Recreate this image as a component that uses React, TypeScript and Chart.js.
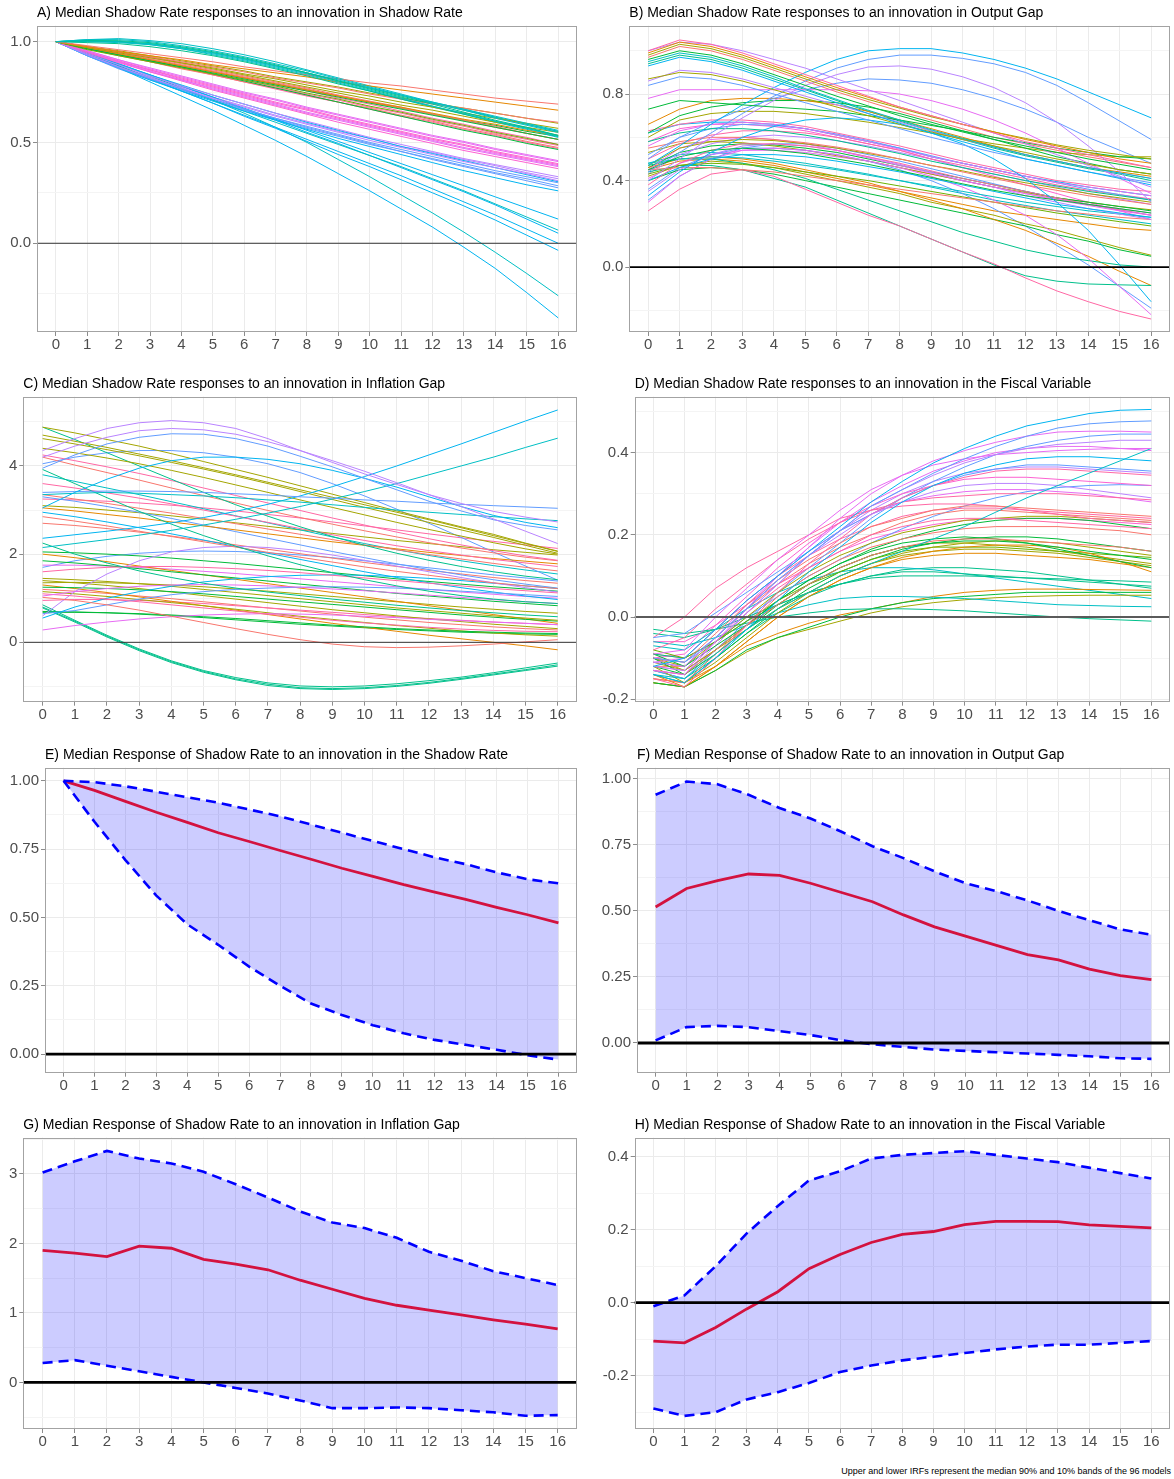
import React, { useEffect, useRef } from "react";
import { Chart, registerables } from "chart.js";

Chart.register(...registerables);

const FONT = '"Liberation Sans", Arial, Helvetica, sans-serif';

const HORIZON = [0, 1, 2, 3, 4, 5, 6, 7, 8, 9, 10, 11, 12, 13, 14, 15, 16];

const TITLES = [
  "A) Median Shadow Rate responses to an innovation in Shadow Rate",
  "B) Median Shadow Rate responses to an innovation in Output Gap",
  "C) Median Shadow Rate responses to an innovation in Inflation Gap",
  "D) Median Shadow Rate responses to an innovation in the Fiscal Variable",
  "E) Median Response of Shadow Rate to an innovation in the Shadow Rate",
  "F) Median Response of Shadow Rate to an innovation in Output Gap",
  "G) Median Response of Shadow Rate to an innovation in Inflation Gap",
  "H) Median Response of Shadow Rate to an innovation in the Fiscal Variable",
];

const FOOTNOTE = "Upper and lower IRFs represent the median 90% and 10% bands of the 96 models";

// ggplot-like hue colours
const RED = "#F8766D", ORANGE = "#E58700", OLIVE = "#A3A500", LIME = "#6BB100", GREEN = "#00BA38",
  JADE = "#00C08B", TEAL = "#00BFC4", CYAN = "#00B4F0", BLUE = "#619CFF", PURPLE = "#B983FF",
  MAGENTA = "#E76BF3", PINK = "#FF67A4", PINK2 = "#FD61D1";

// ---------- Panel A: responses to Shadow Rate innovation ----------
const A_LINES: number[][] = [
  [1, 1.01, 1.01, 1.0, 0.98, 0.955, 0.925, 0.89, 0.855, 0.815, 0.775, 0.735, 0.695, 0.66, 0.62, 0.585, 0.55],
  [1, 1.005, 1.005, 0.995, 0.975, 0.95, 0.92, 0.885, 0.845, 0.805, 0.765, 0.725, 0.69, 0.65, 0.61, 0.575, 0.535],
  [1, 1.0, 0.995, 0.985, 0.965, 0.94, 0.91, 0.875, 0.84, 0.8, 0.76, 0.72, 0.68, 0.645, 0.605, 0.57, 0.53],
  [1, 0.995, 0.99, 0.975, 0.955, 0.93, 0.9, 0.865, 0.83, 0.79, 0.755, 0.715, 0.68, 0.64, 0.605, 0.57, 0.535],
  [1, 1.005, 1.0, 0.99, 0.97, 0.945, 0.915, 0.88, 0.845, 0.81, 0.77, 0.735, 0.7, 0.665, 0.63, 0.595, 0.56],
  [1, 0.98, 0.96, 0.94, 0.92, 0.9, 0.875, 0.855, 0.835, 0.815, 0.795, 0.78, 0.76, 0.74, 0.72, 0.705, 0.69],
  [1, 0.975, 0.95, 0.93, 0.91, 0.885, 0.865, 0.845, 0.825, 0.8, 0.78, 0.76, 0.74, 0.72, 0.7, 0.68, 0.66],
  [1, 0.975, 0.95, 0.925, 0.9, 0.875, 0.85, 0.82, 0.795, 0.77, 0.74, 0.715, 0.69, 0.67, 0.645, 0.62, 0.6],
  [1, 0.97, 0.945, 0.92, 0.895, 0.87, 0.84, 0.815, 0.785, 0.755, 0.73, 0.7, 0.675, 0.645, 0.62, 0.595, 0.57],
  [1, 0.975, 0.95, 0.925, 0.895, 0.865, 0.835, 0.805, 0.775, 0.745, 0.715, 0.685, 0.66, 0.63, 0.6, 0.575, 0.55],
  [1, 0.97, 0.94, 0.91, 0.88, 0.85, 0.82, 0.79, 0.76, 0.73, 0.7, 0.675, 0.645, 0.615, 0.59, 0.56, 0.535],
  [1, 0.965, 0.935, 0.905, 0.875, 0.845, 0.815, 0.785, 0.755, 0.725, 0.695, 0.665, 0.635, 0.605, 0.575, 0.545, 0.515],
  [1, 0.96, 0.93, 0.9, 0.87, 0.84, 0.81, 0.78, 0.745, 0.715, 0.68, 0.65, 0.615, 0.585, 0.55, 0.52, 0.49],
  [1, 0.965, 0.935, 0.905, 0.875, 0.84, 0.805, 0.77, 0.735, 0.7, 0.665, 0.63, 0.595, 0.56, 0.53, 0.495, 0.465],
  [1, 0.975, 0.95, 0.92, 0.89, 0.86, 0.83, 0.8, 0.77, 0.735, 0.705, 0.675, 0.64, 0.61, 0.58, 0.545, 0.515],
  [1, 0.97, 0.94, 0.91, 0.88, 0.85, 0.82, 0.785, 0.755, 0.72, 0.69, 0.655, 0.62, 0.59, 0.555, 0.525, 0.49],
  [1, 0.965, 0.93, 0.9, 0.865, 0.835, 0.8, 0.77, 0.735, 0.7, 0.67, 0.635, 0.605, 0.57, 0.54, 0.505, 0.475],
  [1, 0.97, 0.94, 0.905, 0.875, 0.84, 0.81, 0.775, 0.74, 0.71, 0.675, 0.645, 0.61, 0.58, 0.545, 0.515, 0.485],
  [1, 0.955, 0.91, 0.87, 0.83, 0.79, 0.75, 0.715, 0.675, 0.64, 0.605, 0.57, 0.535, 0.505, 0.47, 0.44, 0.41],
  [1, 0.95, 0.905, 0.86, 0.82, 0.78, 0.74, 0.7, 0.665, 0.625, 0.59, 0.555, 0.52, 0.49, 0.455, 0.425, 0.395],
  [1, 0.95, 0.9, 0.855, 0.81, 0.77, 0.73, 0.69, 0.65, 0.615, 0.58, 0.545, 0.51, 0.475, 0.445, 0.415, 0.385],
  [1, 0.945, 0.895, 0.85, 0.805, 0.76, 0.72, 0.68, 0.64, 0.6, 0.565, 0.53, 0.495, 0.46, 0.43, 0.4, 0.37],
  [1, 0.94, 0.885, 0.83, 0.78, 0.735, 0.69, 0.645, 0.605, 0.565, 0.525, 0.49, 0.455, 0.42, 0.39, 0.36, 0.33],
  [1, 0.935, 0.875, 0.82, 0.77, 0.72, 0.675, 0.63, 0.59, 0.55, 0.51, 0.475, 0.44, 0.405, 0.375, 0.345, 0.31],
  [1, 0.93, 0.87, 0.815, 0.765, 0.715, 0.665, 0.62, 0.58, 0.54, 0.5, 0.465, 0.43, 0.395, 0.36, 0.33, 0.3],
  [1, 0.94, 0.885, 0.835, 0.785, 0.735, 0.69, 0.645, 0.6, 0.56, 0.52, 0.48, 0.445, 0.41, 0.375, 0.34, 0.305],
  [1, 0.935, 0.875, 0.82, 0.765, 0.715, 0.665, 0.62, 0.575, 0.535, 0.495, 0.455, 0.415, 0.38, 0.345, 0.31, 0.275],
  [1, 0.93, 0.87, 0.81, 0.755, 0.705, 0.655, 0.61, 0.565, 0.52, 0.48, 0.44, 0.4, 0.36, 0.325, 0.29, 0.26],
  [1, 0.945, 0.89, 0.835, 0.78, 0.725, 0.67, 0.615, 0.56, 0.505, 0.45, 0.395, 0.34, 0.285, 0.23, 0.175, 0.12],
  [1, 0.94, 0.88, 0.82, 0.765, 0.71, 0.655, 0.6, 0.545, 0.49, 0.435, 0.38, 0.32, 0.26, 0.195, 0.13, 0.065],
  [1, 0.945, 0.89, 0.835, 0.78, 0.725, 0.665, 0.61, 0.55, 0.495, 0.435, 0.375, 0.315, 0.255, 0.19, 0.12, 0.05],
  [1, 0.935, 0.875, 0.815, 0.755, 0.695, 0.635, 0.575, 0.515, 0.455, 0.395, 0.335, 0.27, 0.205, 0.14, 0.07, 0.0],
  [1, 0.94, 0.88, 0.815, 0.755, 0.695, 0.63, 0.57, 0.505, 0.44, 0.38, 0.315, 0.25, 0.185, 0.115, 0.04, -0.035],
  [1, 0.945, 0.89, 0.83, 0.77, 0.71, 0.645, 0.575, 0.5, 0.415, 0.33, 0.24, 0.15, 0.055, -0.045, -0.15, -0.26],
  [1, 0.935, 0.87, 0.8, 0.73, 0.66, 0.585, 0.51, 0.43, 0.345, 0.26, 0.17, 0.08, -0.02, -0.125, -0.245, -0.37],
  [1, 1.01, 1.015, 1.005, 0.99, 0.965, 0.935, 0.9, 0.86, 0.82, 0.78, 0.74, 0.7, 0.665, 0.625, 0.59, 0.555],
  [1, 1.0, 1.0, 0.99, 0.97, 0.945, 0.915, 0.88, 0.845, 0.805, 0.77, 0.73, 0.695, 0.66, 0.625, 0.59, 0.555],
  [1, 1.005, 1.0, 0.985, 0.965, 0.935, 0.905, 0.87, 0.835, 0.795, 0.755, 0.715, 0.675, 0.64, 0.6, 0.565, 0.525],
  [1, 0.965, 0.935, 0.9, 0.87, 0.835, 0.8, 0.765, 0.73, 0.7, 0.665, 0.63, 0.6, 0.565, 0.535, 0.5, 0.47],
  [1, 0.97, 0.945, 0.915, 0.885, 0.855, 0.825, 0.795, 0.765, 0.73, 0.7, 0.67, 0.64, 0.61, 0.575, 0.545, 0.515],
  [1, 0.955, 0.91, 0.865, 0.825, 0.785, 0.745, 0.71, 0.67, 0.635, 0.6, 0.565, 0.53, 0.5, 0.465, 0.435, 0.405],
  [1, 0.95, 0.9, 0.86, 0.815, 0.775, 0.735, 0.695, 0.66, 0.62, 0.585, 0.55, 0.515, 0.485, 0.45, 0.42, 0.39],
  [1, 0.945, 0.9, 0.85, 0.81, 0.765, 0.725, 0.685, 0.645, 0.61, 0.575, 0.54, 0.505, 0.47, 0.44, 0.41, 0.38],
  [1, 0.935, 0.88, 0.825, 0.775, 0.725, 0.68, 0.635, 0.595, 0.555, 0.52, 0.48, 0.45, 0.415, 0.385, 0.35, 0.32],
  [1, 0.93, 0.865, 0.81, 0.76, 0.71, 0.66, 0.615, 0.57, 0.53, 0.49, 0.455, 0.42, 0.385, 0.35, 0.32, 0.285],
  [1, 0.97, 0.94, 0.91, 0.88, 0.85, 0.82, 0.79, 0.76, 0.73, 0.7, 0.67, 0.64, 0.61, 0.585, 0.555, 0.53],
  [1, 0.975, 0.955, 0.93, 0.905, 0.88, 0.855, 0.825, 0.8, 0.775, 0.745, 0.72, 0.695, 0.67, 0.645, 0.62, 0.595],
];
const A_COLORS = [TEAL, JADE, TEAL, JADE, TEAL, RED, ORANGE, RED, OLIVE, OLIVE, ORANGE, GREEN, LIME, GREEN, RED, PINK,
  RED, PINK, MAGENTA, PINK2, MAGENTA, PINK2, PURPLE, PURPLE, BLUE, CYAN, BLUE, CYAN, CYAN, TEAL, CYAN, CYAN, CYAN, TEAL, CYAN,
  TEAL, JADE, TEAL, PINK, RED, MAGENTA, PINK2, MAGENTA, PURPLE, BLUE, GREEN, OLIVE];

// ---------- Panel B: responses to Output Gap innovation ----------
const B_LINES: number[][] = [
  [1.0, 1.05, 1.03, 0.99, 0.94, 0.89, 0.84, 0.79, 0.74, 0.7, 0.66, 0.62, 0.58, 0.55, 0.52, 0.49, 0.46],
  [0.99, 1.04, 1.02, 0.98, 0.93, 0.88, 0.83, 0.785, 0.74, 0.7, 0.66, 0.625, 0.59, 0.56, 0.53, 0.5, 0.48],
  [0.98, 1.03, 1.01, 0.97, 0.92, 0.87, 0.82, 0.775, 0.735, 0.695, 0.66, 0.625, 0.595, 0.565, 0.54, 0.52, 0.5],
  [0.96, 1.0, 0.98, 0.94, 0.89, 0.84, 0.79, 0.745, 0.7, 0.66, 0.625, 0.59, 0.56, 0.53, 0.5, 0.475, 0.45],
  [0.95, 0.99, 0.97, 0.93, 0.88, 0.825, 0.775, 0.725, 0.68, 0.635, 0.595, 0.555, 0.52, 0.49, 0.46, 0.435, 0.41],
  [1.0, 1.04, 1.03, 1.0, 0.96, 0.92, 0.87, 0.82, 0.77, 0.72, 0.67, 0.62, 0.57, 0.52, 0.47, 0.42, 0.37],
  [0.93, 0.97, 0.95, 0.91, 0.86, 0.81, 0.76, 0.71, 0.665, 0.62, 0.58, 0.54, 0.5, 0.47, 0.44, 0.41, 0.38],
  [0.87, 0.9, 0.89, 0.86, 0.82, 0.78, 0.74, 0.7, 0.66, 0.625, 0.59, 0.56, 0.53, 0.5, 0.475, 0.45, 0.43],
  [0.86, 0.91, 0.9, 0.87, 0.83, 0.79, 0.75, 0.71, 0.67, 0.63, 0.59, 0.555, 0.52, 0.49, 0.46, 0.435, 0.41],
  [0.84, 0.88, 0.87, 0.84, 0.8, 0.76, 0.72, 0.68, 0.64, 0.6, 0.565, 0.53, 0.5, 0.47, 0.44, 0.415, 0.39],
  [0.78, 0.82, 0.82, 0.82, 0.82, 0.82, 0.82, 0.815, 0.8, 0.77, 0.73, 0.68, 0.62, 0.55, 0.48, 0.41, 0.34],
  [0.73, 0.77, 0.76, 0.75, 0.74, 0.73, 0.72, 0.7, 0.68, 0.655, 0.63, 0.6, 0.575, 0.55, 0.53, 0.51, 0.5],
  [0.47, 0.56, 0.66, 0.75, 0.83, 0.9, 0.96, 1.0, 1.01, 1.01, 0.99, 0.96, 0.92, 0.87, 0.81, 0.75, 0.69],
  [0.44, 0.53, 0.62, 0.71, 0.79, 0.86, 0.92, 0.96, 0.98, 0.98, 0.965, 0.94, 0.9, 0.84, 0.76, 0.675, 0.59],
  [0.4, 0.5, 0.6, 0.69, 0.77, 0.84, 0.89, 0.925, 0.93, 0.915, 0.88, 0.83, 0.76, 0.67, 0.56, 0.44, 0.3],
  [0.5, 0.6, 0.67, 0.73, 0.78, 0.82, 0.85, 0.87, 0.865, 0.85, 0.82, 0.78, 0.73, 0.67, 0.6, 0.54, 0.48],
  [0.33, 0.44, 0.53, 0.6, 0.65, 0.68, 0.69, 0.68, 0.66, 0.62, 0.57, 0.5, 0.41, 0.3, 0.17, 0.01, -0.16],
  [0.66, 0.73, 0.77, 0.78, 0.78, 0.77, 0.75, 0.72, 0.68, 0.64, 0.6, 0.56, 0.52, 0.49, 0.46, 0.44, 0.42],
  [0.62, 0.7, 0.74, 0.76, 0.77, 0.77, 0.76, 0.74, 0.71, 0.67, 0.63, 0.59, 0.55, 0.51, 0.48, 0.45, 0.43],
  [0.6, 0.68, 0.71, 0.72, 0.72, 0.71, 0.69, 0.67, 0.645, 0.62, 0.595, 0.57, 0.55, 0.53, 0.52, 0.51, 0.51],
  [0.63, 0.66, 0.68, 0.68, 0.67, 0.65, 0.62, 0.59, 0.56, 0.525, 0.49, 0.46, 0.43, 0.4, 0.38, 0.36, 0.35],
  [0.56, 0.63, 0.66, 0.67, 0.66, 0.64, 0.61, 0.58, 0.545, 0.51, 0.48, 0.45, 0.42, 0.39, 0.37, 0.35, 0.33],
  [0.58, 0.62, 0.64, 0.64, 0.63, 0.61, 0.585, 0.555, 0.525, 0.49, 0.46, 0.43, 0.4, 0.375, 0.35, 0.33, 0.31],
  [0.52, 0.6, 0.64, 0.66, 0.655, 0.64, 0.615, 0.585, 0.55, 0.515, 0.48, 0.45, 0.42, 0.39, 0.36, 0.335, 0.31],
  [0.55, 0.58, 0.6, 0.6, 0.59, 0.575, 0.555, 0.53, 0.5, 0.47, 0.44, 0.41, 0.38, 0.355, 0.33, 0.31, 0.29],
  [0.47, 0.55, 0.58, 0.59, 0.585, 0.57, 0.55, 0.525, 0.5, 0.47, 0.445, 0.415, 0.39, 0.365, 0.34, 0.32, 0.3],
  [0.45, 0.51, 0.54, 0.55, 0.54, 0.525, 0.5, 0.475, 0.445, 0.415, 0.385, 0.355, 0.33, 0.31, 0.29, 0.27, 0.25],
  [0.45, 0.55, 0.59, 0.6, 0.59, 0.57, 0.54, 0.505, 0.47, 0.435, 0.4, 0.37, 0.34, 0.31, 0.285, 0.26, 0.24],
  [0.38, 0.48, 0.54, 0.57, 0.57, 0.56, 0.54, 0.51, 0.48, 0.445, 0.41, 0.38, 0.35, 0.32, 0.29, 0.265, 0.24],
  [0.4, 0.46, 0.5, 0.52, 0.52, 0.51, 0.49, 0.465, 0.44, 0.41, 0.38, 0.35, 0.32, 0.29, 0.27, 0.25, 0.23],
  [0.35, 0.45, 0.52, 0.56, 0.57, 0.56, 0.54, 0.51, 0.475, 0.44, 0.4, 0.37, 0.33, 0.3, 0.27, 0.245, 0.22],
  [0.45, 0.46, 0.46, 0.45, 0.44, 0.42, 0.4, 0.38, 0.36, 0.34, 0.32, 0.3, 0.28, 0.26, 0.245, 0.23, 0.22],
  [0.48, 0.5, 0.51, 0.505, 0.49, 0.47, 0.45, 0.425, 0.4, 0.375, 0.35, 0.325, 0.3, 0.28, 0.26, 0.245, 0.23],
  [0.43, 0.47, 0.48, 0.475, 0.46, 0.44, 0.42, 0.4, 0.375, 0.35, 0.325, 0.3, 0.275, 0.25, 0.23, 0.21, 0.19],
  [0.26, 0.36, 0.43, 0.45, 0.42, 0.36, 0.3, 0.24, 0.19, 0.13, 0.07, 0.015, -0.05, -0.11, -0.16, -0.205, -0.24],
  [0.3, 0.42, 0.5, 0.54, 0.55, 0.54, 0.52, 0.49, 0.46, 0.42, 0.37, 0.31, 0.24, 0.15, 0.04, -0.09, -0.22],
  [0.47, 0.5, 0.5, 0.48, 0.45, 0.41, 0.36, 0.31, 0.26, 0.21, 0.16, 0.12, 0.08, 0.05, 0.03, 0.01, 0.0],
  [0.44, 0.47, 0.47, 0.45, 0.41, 0.37, 0.31, 0.25, 0.19, 0.13, 0.07, 0.01, -0.04, -0.065, -0.078, -0.082, -0.085],
  [0.46, 0.5, 0.51, 0.5, 0.48, 0.45, 0.42, 0.39, 0.35, 0.31, 0.27, 0.22, 0.17, 0.11, 0.05, -0.02, -0.085],
  [0.4, 0.45, 0.46, 0.45, 0.43, 0.4, 0.37, 0.34, 0.31, 0.28, 0.25, 0.22, 0.19, 0.15, 0.12, 0.08, 0.05],
  [0.42, 0.47, 0.49, 0.48, 0.46, 0.43, 0.4, 0.37, 0.34, 0.3, 0.27, 0.24, 0.2, 0.17, 0.13, 0.09, 0.055],
  [0.36, 0.46, 0.52, 0.55, 0.55, 0.54, 0.52, 0.49, 0.45, 0.4, 0.34, 0.27, 0.19, 0.1, 0.01, -0.09, -0.19],
  [0.97, 1.02, 1.0, 0.96, 0.91, 0.86, 0.81, 0.765, 0.72, 0.68, 0.64, 0.6, 0.57, 0.54, 0.51, 0.485, 0.46],
  [0.94, 0.98, 0.96, 0.92, 0.87, 0.82, 0.77, 0.72, 0.675, 0.63, 0.59, 0.55, 0.515, 0.485, 0.455, 0.43, 0.4],
  [0.62, 0.66, 0.67, 0.67, 0.66, 0.64, 0.61, 0.58, 0.55, 0.51, 0.48, 0.45, 0.42, 0.395, 0.37, 0.35, 0.33],
  [0.5, 0.57, 0.61, 0.63, 0.63, 0.62, 0.6, 0.57, 0.54, 0.5, 0.47, 0.44, 0.41, 0.38, 0.355, 0.335, 0.315],
  [0.43, 0.52, 0.57, 0.6, 0.61, 0.6, 0.585, 0.56, 0.53, 0.5, 0.46, 0.43, 0.4, 0.37, 0.34, 0.315, 0.29],
  [0.46, 0.53, 0.56, 0.57, 0.565, 0.55, 0.53, 0.5, 0.47, 0.44, 0.41, 0.38, 0.35, 0.32, 0.3, 0.28, 0.26],
  [0.53, 0.57, 0.58, 0.575, 0.56, 0.54, 0.515, 0.49, 0.46, 0.43, 0.4, 0.37, 0.345, 0.32, 0.3, 0.28, 0.265],
  [0.41, 0.48, 0.52, 0.54, 0.54, 0.53, 0.51, 0.49, 0.46, 0.43, 0.4, 0.37, 0.34, 0.315, 0.29, 0.27, 0.25],
  [0.31, 0.42, 0.5, 0.55, 0.57, 0.57, 0.55, 0.52, 0.49, 0.455, 0.42, 0.385, 0.35, 0.32, 0.29, 0.265, 0.24],
  [0.48, 0.52, 0.53, 0.52, 0.5, 0.48, 0.455, 0.43, 0.4, 0.37, 0.34, 0.31, 0.285, 0.26, 0.24, 0.22, 0.2],
  [0.58, 0.64, 0.66, 0.66, 0.65, 0.63, 0.6, 0.57, 0.54, 0.5, 0.46, 0.42, 0.38, 0.34, 0.3, 0.26, 0.22],
  [0.45, 0.49, 0.5, 0.49, 0.47, 0.44, 0.41, 0.38, 0.35, 0.32, 0.29, 0.26, 0.24, 0.22, 0.2, 0.18, 0.17],
];
const B_COLORS = [PINK, ORANGE, OLIVE, GREEN, TEAL, PURPLE, CYAN, OLIVE, PURPLE, BLUE, MAGENTA, GREEN, CYAN, BLUE, PURPLE,
  BLUE, CYAN, ORANGE, GREEN, OLIVE, PINK, MAGENTA, JADE, BLUE, RED, OLIVE, GREEN, MAGENTA, PINK, CYAN, PURPLE, RED, TEAL,
  LIME, PINK, MAGENTA, JADE, JADE, ORANGE, GREEN, OLIVE, BLUE,
  RED, JADE, CYAN, PINK, PURPLE, GREEN, OLIVE, MAGENTA, BLUE, TEAL, PINK2, ORANGE];

// ---------- Panel C: responses to Inflation Gap innovation ----------
const C_LINES: number[][] = [
  [4.35, 4.62, 4.85, 4.98, 5.03, 4.98, 4.85, 4.62, 4.35, 4.08, 3.82, 3.58, 3.35, 3.15, 2.97, 2.84, 2.73],
  [4.2, 4.45, 4.65, 4.8, 4.85, 4.82, 4.72, 4.55, 4.35, 4.12, 3.88, 3.62, 3.35, 3.08, 2.8, 2.52, 2.24],
  [3.95, 4.25, 4.5, 4.65, 4.73, 4.72, 4.62, 4.45, 4.22, 3.98, 3.72, 3.46, 3.2, 2.98, 2.78, 2.65, 2.55],
  [3.05, 3.4, 3.7, 3.95, 4.12, 4.2, 4.2, 4.15, 4.05, 3.9, 3.72, 3.52, 3.3, 3.08, 2.88, 2.72, 2.6],
  [3.4, 3.42, 3.43, 3.43, 3.42, 3.4, 3.37, 3.34, 3.3, 3.27, 3.23, 3.2, 3.16, 3.13, 3.1, 3.07, 3.04],
  [3.35, 3.38, 3.4, 3.38, 3.35, 3.32, 3.28, 3.23, 3.18, 3.12, 3.06, 3.0, 2.95, 2.9, 2.85, 2.8, 2.76],
  [2.36, 2.44, 2.52, 2.61, 2.71, 2.83, 2.97, 3.13, 3.32, 3.53, 3.76, 4.0, 4.25, 4.5, 4.76, 5.02, 5.27],
  [2.15, 2.24, 2.33, 2.43, 2.54, 2.66, 2.79, 2.93, 3.08, 3.25, 3.42, 3.6, 3.8, 4.0, 4.2, 4.42, 4.63],
  [4.88, 4.75, 4.6, 4.45, 4.28, 4.1, 3.92, 3.74, 3.55, 3.36, 3.17, 2.98, 2.8, 2.62, 2.45, 2.25, 2.07],
  [4.7, 4.56, 4.42, 4.27, 4.12, 3.96, 3.8, 3.63, 3.46, 3.29, 3.12, 2.95, 2.78, 2.6, 2.42, 2.24, 2.06],
  [4.62, 4.5, 4.37, 4.23, 4.08, 3.93, 3.77, 3.6, 3.42, 3.24, 3.06, 2.89, 2.72, 2.55, 2.38, 2.2, 2.02],
  [4.4, 4.3, 4.18, 4.05, 3.9, 3.74, 3.57, 3.4, 3.23, 3.06, 2.89, 2.72, 2.56, 2.41, 2.26, 2.12, 2.0],
  [4.88, 4.6, 4.3, 4.0, 3.7, 3.4, 3.12, 2.86, 2.62, 2.4, 2.2, 2.02, 1.86, 1.72, 1.6, 1.5, 1.42],
  [3.92, 3.6, 3.28, 2.97, 2.68, 2.42, 2.18, 1.96, 1.76, 1.58, 1.42, 1.28, 1.16, 1.06, 0.98, 0.92, 0.88],
  [2.25, 2.0, 1.8, 1.62, 1.47, 1.34, 1.23, 1.14, 1.06, 0.98, 0.91, 0.84, 0.78, 0.72, 0.67, 0.62, 0.58],
  [4.25, 4.12, 3.98, 3.83, 3.67, 3.5, 3.33, 3.16, 2.99, 2.82, 2.66, 2.5, 2.35, 2.21, 2.08, 1.96, 1.86],
  [4.2, 4.02, 3.85, 3.68, 3.5, 3.33, 3.16, 2.99, 2.83, 2.68, 2.53, 2.39, 2.26, 2.14, 2.03, 1.93, 1.85],
  [3.6, 3.5, 3.39, 3.27, 3.14, 3.0, 2.86, 2.72, 2.58, 2.44, 2.31, 2.19, 2.08, 1.98, 1.88, 1.8, 1.72],
  [3.35, 3.25, 3.15, 3.04, 2.93, 2.81, 2.69, 2.57, 2.45, 2.33, 2.21, 2.1, 1.99, 1.89, 1.79, 1.7, 1.62],
  [3.05, 2.98, 2.9, 2.82, 2.73, 2.64, 2.55, 2.46, 2.37, 2.28, 2.2, 2.12, 2.04, 1.97, 1.9, 1.84, 1.78],
  [2.85, 2.75, 2.64, 2.52, 2.4, 2.28, 2.16, 2.04, 1.93, 1.82, 1.71, 1.61, 1.52, 1.43, 1.35, 1.28, 1.22],
  [1.6, 1.66, 1.7, 1.72, 1.72, 1.7, 1.67, 1.63, 1.58, 1.52, 1.46, 1.4, 1.34, 1.28, 1.22, 1.17, 1.12],
  [1.05, 1.15, 1.22, 1.27, 1.3, 1.31, 1.3, 1.28, 1.25, 1.21, 1.17, 1.12, 1.07, 1.02, 0.97, 0.92, 0.88],
  [1.1, 1.05, 0.98, 0.92, 0.85, 0.78, 0.71, 0.64, 0.57, 0.5, 0.44, 0.39, 0.34, 0.3, 0.27, 0.25, 0.24],
  [1.02, 0.95, 0.85, 0.73, 0.59, 0.45, 0.31, 0.18, 0.06, -0.04, -0.1, -0.12, -0.11, -0.08, -0.04, 0.01, 0.06],
  [0.28, 0.38, 0.46, 0.53, 0.58, 0.62, 0.64, 0.65, 0.64, 0.62, 0.59, 0.56, 0.52, 0.49, 0.46, 0.43, 0.4],
  [0.6, 1.15, 1.55, 1.85, 2.05, 2.15, 2.18, 2.15, 2.08, 1.98, 1.86, 1.73, 1.6, 1.47, 1.35, 1.24, 1.14],
  [0.55, 0.8, 1.0, 1.15, 1.27, 1.37, 1.44, 1.49, 1.52, 1.53, 1.52, 1.49, 1.45, 1.4, 1.34, 1.28, 1.22],
  [0.65, 0.72, 0.85, 0.98, 1.08, 1.15, 1.2, 1.23, 1.25, 1.26, 1.25, 1.23, 1.2, 1.16, 1.12, 1.08, 1.04],
  [1.85, 1.8, 1.74, 1.67, 1.6, 1.53, 1.46, 1.39, 1.32, 1.25, 1.18, 1.11, 1.05, 0.99, 0.93, 0.88, 0.83],
  [1.45, 1.42, 1.38, 1.33, 1.27, 1.2, 1.13, 1.06, 0.99, 0.92, 0.85, 0.78, 0.72, 0.66, 0.6, 0.55, 0.5],
  [1.25, 1.24, 1.22, 1.19, 1.15, 1.1, 1.04, 0.98, 0.92, 0.86, 0.8, 0.74, 0.68, 0.62, 0.57, 0.52, 0.48],
  [1.4, 1.35, 1.29, 1.22, 1.14, 1.06, 0.98, 0.9, 0.82, 0.74, 0.67, 0.6, 0.53, 0.47, 0.41, 0.36, 0.31],
  [0.68, 0.68, 0.67, 0.65, 0.62, 0.58, 0.54, 0.49, 0.44, 0.39, 0.35, 0.31, 0.28, 0.25, 0.23, 0.21, 0.2],
  [1.15, 1.1, 1.04, 0.97, 0.9, 0.83, 0.75, 0.67, 0.59, 0.52, 0.45, 0.38, 0.32, 0.26, 0.21, 0.17, 0.14],
  [1.3, 1.22, 1.13, 1.03, 0.93, 0.83, 0.73, 0.63, 0.53, 0.43, 0.34, 0.25, 0.16, 0.08, 0.0, -0.08, -0.17],
  [2.0, 1.92, 1.83, 1.73, 1.63, 1.53, 1.43, 1.33, 1.23, 1.13, 1.03, 0.93, 0.83, 0.73, 0.63, 0.53, 0.43],
  [0.85, 0.5, 0.16, -0.15, -0.42, -0.64, -0.8, -0.92, -0.99, -1.01, -0.99, -0.94, -0.87, -0.79, -0.69, -0.58, -0.47],
  [0.8, 0.48, 0.14, -0.17, -0.44, -0.66, -0.83, -0.95, -1.03, -1.05, -1.03, -0.98, -0.91, -0.82, -0.72, -0.62, -0.51],
  [0.78, 0.46, 0.12, -0.19, -0.46, -0.68, -0.85, -0.98, -1.05, -1.07, -1.05, -1.0, -0.93, -0.84, -0.74, -0.64, -0.54],
  [3.3, 3.2, 3.08, 2.95, 2.81, 2.66, 2.51, 2.36, 2.21, 2.06, 1.92, 1.78, 1.65, 1.53, 1.42, 1.32, 1.23],
  [2.95, 2.85, 2.73, 2.6, 2.46, 2.32, 2.17, 2.02, 1.88, 1.74, 1.6, 1.47, 1.35, 1.24, 1.14, 1.05, 0.97],
  [4.05, 4.2, 4.3, 4.35, 4.35, 4.3, 4.2, 4.05, 3.85, 3.6, 3.32, 3.02, 2.7, 2.38, 2.05, 1.73, 1.41],
  [2.7, 2.65, 2.58, 2.5, 2.41, 2.31, 2.21, 2.11, 2.01, 1.91, 1.81, 1.72, 1.63, 1.55, 1.47, 1.4, 1.34],
  [2.05, 2.03, 2.0, 1.96, 1.91, 1.85, 1.79, 1.72, 1.65, 1.58, 1.51, 1.44, 1.38, 1.32, 1.26, 1.21, 1.16],
  [1.75, 1.75, 1.73, 1.7, 1.66, 1.61, 1.56, 1.5, 1.44, 1.38, 1.32, 1.26, 1.2, 1.14, 1.09, 1.04, 1.0],
  [1.35, 1.36, 1.35, 1.33, 1.3, 1.26, 1.21, 1.16, 1.1, 1.04, 0.98, 0.92, 0.86, 0.8, 0.75, 0.7, 0.66],
  [0.95, 0.97, 0.97, 0.95, 0.92, 0.88, 0.83, 0.78, 0.73, 0.68, 0.63, 0.58, 0.54, 0.5, 0.46, 0.43, 0.4],
  [1.2, 1.16, 1.11, 1.05, 0.99, 0.92, 0.85, 0.78, 0.71, 0.64, 0.57, 0.51, 0.45, 0.4, 0.35, 0.31, 0.28],
  [3.8, 3.65, 3.5, 3.35, 3.19, 3.03, 2.87, 2.71, 2.55, 2.39, 2.24, 2.1, 1.97, 1.85, 1.74, 1.64, 1.55],
  [3.1, 3.06, 3.0, 2.94, 2.87, 2.79, 2.71, 2.63, 2.55, 2.47, 2.39, 2.31, 2.24, 2.17, 2.1, 2.04, 1.98],
  [0.7, 0.69, 0.67, 0.64, 0.6, 0.56, 0.51, 0.46, 0.41, 0.37, 0.33, 0.29, 0.26, 0.23, 0.21, 0.19, 0.18],
  [1.7, 1.85, 1.95, 2.02, 2.06, 2.07, 2.06, 2.03, 1.98, 1.92, 1.85, 1.77, 1.69, 1.61, 1.53, 1.46, 1.39],
  [3.25, 3.23, 3.2, 3.16, 3.11, 3.05, 2.98, 2.9, 2.82, 2.73, 2.64, 2.55, 2.46, 2.37, 2.29, 2.21, 2.13],
];
const C_COLORS = [PURPLE, PURPLE, BLUE, CYAN, BLUE, TEAL, CYAN, TEAL, OLIVE, OLIVE, OLIVE, OLIVE, JADE, JADE, JADE, PINK, RED,
  PINK, RED, ORANGE, RED, PINK, MAGENTA, PINK, RED, MAGENTA, PURPLE, CYAN, BLUE, GREEN, OLIVE, GREEN, OLIVE, GREEN, OLIVE,
  ORANGE, ORANGE, JADE, JADE, JADE, BLUE, CYAN, BLUE,
  RED, GREEN, MAGENTA, OLIVE, PINK, RED, TEAL, OLIVE, GREEN, BLUE, PINK];

// ---------- Panel D: responses to Fiscal Variable innovation ----------
const D_LINES: number[][] = [
  [-0.12, -0.1, -0.03, 0.04, 0.1, 0.16, 0.22, 0.28, 0.33, 0.375, 0.41, 0.44, 0.465, 0.48, 0.495, 0.503, 0.505],
  [-0.1, -0.11, -0.05, 0.02, 0.09, 0.15, 0.21, 0.27, 0.31, 0.35, 0.385, 0.415, 0.44, 0.46, 0.47, 0.475, 0.477],
  [-0.13, -0.14, -0.06, 0.02, 0.1, 0.17, 0.24, 0.3, 0.345, 0.38, 0.405, 0.425, 0.44, 0.45, 0.452, 0.452, 0.45],
  [-0.12, -0.13, -0.06, 0.01, 0.08, 0.15, 0.21, 0.27, 0.31, 0.345, 0.375, 0.395, 0.41, 0.42, 0.425, 0.43, 0.43],
  [-0.09, -0.08, 0.0, 0.07, 0.14, 0.2, 0.26, 0.31, 0.345, 0.37, 0.385, 0.395, 0.4, 0.405, 0.408, 0.41, 0.41],
  [-0.14, -0.16, -0.1, -0.03, 0.04, 0.11, 0.17, 0.23, 0.28, 0.32, 0.35, 0.37, 0.385, 0.39, 0.39, 0.385, 0.38],
  [-0.14, -0.15, -0.09, -0.03, 0.02, 0.06, 0.1, 0.13, 0.16, 0.19, 0.22, 0.255, 0.29, 0.32, 0.35, 0.38, 0.41],
  [-0.11, -0.12, -0.05, 0.02, 0.09, 0.15, 0.2, 0.25, 0.28, 0.305, 0.32, 0.325, 0.325, 0.32, 0.31, 0.3, 0.29],
  [-0.15, -0.17, -0.1, -0.02, 0.06, 0.13, 0.19, 0.25, 0.29, 0.32, 0.34, 0.355, 0.36, 0.36, 0.355, 0.35, 0.345],
  [-0.05, -0.04, 0.01, 0.06, 0.11, 0.16, 0.21, 0.25, 0.29, 0.32, 0.345, 0.36, 0.37, 0.37, 0.365, 0.36, 0.355],
  [-0.08, -0.05, 0.02, 0.08, 0.14, 0.19, 0.23, 0.26, 0.28, 0.29, 0.295, 0.3, 0.3, 0.3, 0.295, 0.29, 0.285],
  [-0.1, -0.11, -0.04, 0.03, 0.09, 0.14, 0.18, 0.22, 0.24, 0.26, 0.27, 0.27, 0.265, 0.26, 0.255, 0.25, 0.245],
  [-0.12, -0.13, -0.06, 0.01, 0.07, 0.12, 0.16, 0.2, 0.22, 0.235, 0.24, 0.24, 0.235, 0.23, 0.225, 0.22, 0.215],
  [-0.15, -0.16, -0.09, -0.02, 0.05, 0.1, 0.14, 0.17, 0.19, 0.205, 0.215, 0.22, 0.22, 0.22, 0.215, 0.21, 0.2],
  [-0.11, -0.1, -0.03, 0.04, 0.1, 0.16, 0.21, 0.25, 0.28, 0.295, 0.305, 0.31, 0.31, 0.305, 0.3, 0.29, 0.28],
  [-0.05, 0.0, 0.07, 0.12, 0.16, 0.2, 0.24, 0.26, 0.27, 0.275, 0.275, 0.27, 0.26, 0.25, 0.24, 0.235, 0.23],
  [-0.13, -0.14, -0.08, -0.02, 0.03, 0.08, 0.12, 0.15, 0.17, 0.185, 0.19, 0.19, 0.185, 0.18, 0.175, 0.17, 0.16],
  [-0.1, -0.14, -0.09, -0.03, 0.03, 0.08, 0.12, 0.15, 0.17, 0.18, 0.185, 0.185, 0.18, 0.17, 0.16, 0.15, 0.14],
  [-0.12, -0.16, -0.11, -0.05, 0.01, 0.06, 0.1, 0.13, 0.155, 0.17, 0.18, 0.185, 0.185, 0.18, 0.17, 0.16, 0.15],
  [-0.09, -0.12, -0.07, -0.02, 0.04, 0.09, 0.13, 0.16, 0.18, 0.19, 0.195, 0.19, 0.18, 0.165, 0.15, 0.135, 0.12],
  [-0.14, -0.17, -0.12, -0.06, 0.0, 0.05, 0.09, 0.12, 0.145, 0.16, 0.17, 0.175, 0.175, 0.17, 0.155, 0.135, 0.11],
  [-0.11, -0.13, -0.08, -0.03, 0.02, 0.06, 0.1, 0.13, 0.15, 0.16, 0.165, 0.165, 0.16, 0.155, 0.145, 0.135, 0.125],
  [-0.08, -0.1, -0.06, -0.01, 0.04, 0.08, 0.11, 0.14, 0.16, 0.17, 0.17, 0.17, 0.165, 0.16, 0.155, 0.15, 0.145],
  [-0.1, -0.12, -0.06, 0.0, 0.06, 0.11, 0.15, 0.18, 0.205, 0.22, 0.235, 0.24, 0.245, 0.245, 0.24, 0.235, 0.23],
  [-0.12, -0.14, -0.08, -0.02, 0.04, 0.09, 0.13, 0.165, 0.19, 0.21, 0.225, 0.235, 0.24, 0.24, 0.235, 0.225, 0.215],
  [-0.04, -0.05, -0.03, 0.0, 0.03, 0.06, 0.08, 0.1, 0.11, 0.11, 0.105, 0.1, 0.095, 0.09, 0.085, 0.08, 0.075],
  [-0.06, -0.07, -0.05, -0.02, 0.01, 0.03, 0.045, 0.05, 0.05, 0.048, 0.045, 0.04, 0.035, 0.03, 0.028, 0.026, 0.025],
  [-0.03, -0.04, -0.03, -0.015, 0.0, 0.01, 0.018, 0.02, 0.02, 0.018, 0.015, 0.01, 0.005, 0.0, -0.004, -0.007, -0.01],
  [-0.16, -0.17, -0.13, -0.08, -0.05, -0.025, 0.0, 0.02, 0.035, 0.045, 0.05, 0.055, 0.06, 0.06, 0.06, 0.06, 0.06],
  [-0.15, -0.16, -0.12, -0.07, -0.04, -0.015, 0.005, 0.02, 0.035, 0.05, 0.06, 0.065, 0.068, 0.068, 0.067, 0.066, 0.065],
  [-0.16, -0.17, -0.13, -0.085, -0.05, -0.03, -0.01, 0.01, 0.025, 0.035, 0.042, 0.047, 0.05, 0.052, 0.053, 0.053, 0.053],
  [-0.09, -0.1, -0.06, -0.01, 0.03, 0.06, 0.08, 0.095, 0.1, 0.1, 0.1, 0.098, 0.095, 0.093, 0.09, 0.088, 0.085],
  [-0.07, -0.08, -0.03, 0.02, 0.06, 0.09, 0.11, 0.12, 0.12, 0.115, 0.105, 0.095, 0.085, 0.075, 0.065, 0.055, 0.045],
  [-0.1, -0.09, -0.02, 0.05, 0.12, 0.18, 0.23, 0.27, 0.3, 0.32, 0.335, 0.34, 0.34, 0.335, 0.33, 0.325, 0.32],
  [-0.13, -0.15, -0.08, -0.01, 0.06, 0.12, 0.18, 0.24, 0.29, 0.33, 0.365, 0.395, 0.415, 0.43, 0.44, 0.445, 0.445],
  [-0.11, -0.12, -0.05, 0.03, 0.1, 0.17, 0.23, 0.28, 0.32, 0.355, 0.38, 0.4, 0.41, 0.415, 0.415, 0.41, 0.405],
  [-0.13, -0.14, -0.07, 0.01, 0.08, 0.15, 0.21, 0.26, 0.3, 0.33, 0.35, 0.36, 0.365, 0.365, 0.36, 0.355, 0.35],
  [-0.09, -0.1, -0.03, 0.04, 0.1, 0.15, 0.19, 0.22, 0.245, 0.26, 0.265, 0.265, 0.26, 0.255, 0.25, 0.245, 0.24],
  [-0.12, -0.12, -0.05, 0.02, 0.08, 0.13, 0.17, 0.2, 0.23, 0.25, 0.26, 0.26, 0.255, 0.25, 0.245, 0.24, 0.235],
  [-0.14, -0.16, -0.1, -0.04, 0.02, 0.07, 0.11, 0.14, 0.165, 0.18, 0.19, 0.195, 0.195, 0.19, 0.18, 0.17, 0.16],
  [-0.1, -0.13, -0.08, -0.02, 0.03, 0.08, 0.12, 0.15, 0.17, 0.18, 0.18, 0.175, 0.17, 0.16, 0.15, 0.14, 0.13],
  [-0.13, -0.15, -0.1, -0.04, 0.01, 0.05, 0.08, 0.1, 0.115, 0.12, 0.12, 0.115, 0.11, 0.1, 0.09, 0.08, 0.07],
  [-0.1, -0.11, -0.06, 0.0, 0.05, 0.1, 0.14, 0.18, 0.215, 0.245, 0.27, 0.29, 0.305, 0.315, 0.32, 0.322, 0.32],
  [-0.16, -0.17, -0.12, -0.06, 0.0, 0.05, 0.09, 0.12, 0.14, 0.15, 0.155, 0.155, 0.15, 0.145, 0.14, 0.13, 0.12],
  [-0.06, -0.06, -0.02, 0.03, 0.08, 0.12, 0.16, 0.19, 0.21, 0.225, 0.235, 0.24, 0.24, 0.24, 0.235, 0.23, 0.225],
];
const D_COLORS = [CYAN, BLUE, MAGENTA, PURPLE, MAGENTA, CYAN, TEAL, PURPLE, PINK, BLUE, PINK, RED, PINK, RED, MAGENTA, PINK,
  RED, GREEN, OLIVE, GREEN, ORANGE, OLIVE, LIME, OLIVE, GREEN, JADE, TEAL, JADE, GREEN, ORANGE, OLIVE, JADE, TEAL, PINK2, BLUE,
  MAGENTA, PURPLE, PINK, RED, GREEN, OLIVE, JADE, BLUE, ORANGE, PINK2];

// ---------- Panels E-H: median and 10/90% bands ----------
const E_UPPER = [1.0, 0.995, 0.98, 0.96, 0.94, 0.92, 0.895, 0.87, 0.84, 0.81, 0.78, 0.75, 0.72, 0.695, 0.665, 0.64, 0.625];
const E_MEDIAN = [1.0, 0.965, 0.925, 0.885, 0.848, 0.81, 0.778, 0.745, 0.713, 0.68, 0.65, 0.62, 0.593, 0.566, 0.537, 0.51, 0.48];
const E_LOWER = [1.0, 0.85, 0.71, 0.58, 0.475, 0.4, 0.32, 0.25, 0.185, 0.143, 0.106, 0.076, 0.052, 0.034, 0.016, -0.004, -0.02];

const F_UPPER = [0.94, 0.99, 0.98, 0.94, 0.89, 0.85, 0.8, 0.745, 0.7, 0.65, 0.605, 0.575, 0.54, 0.5, 0.465, 0.43, 0.41];
const F_MEDIAN = [0.515, 0.585, 0.615, 0.64, 0.635, 0.605, 0.57, 0.535, 0.485, 0.44, 0.405, 0.37, 0.335, 0.315, 0.28, 0.255, 0.24];
const F_LOWER = [0.01, 0.06, 0.065, 0.06, 0.045, 0.03, 0.01, -0.005, -0.015, -0.025, -0.03, -0.035, -0.04, -0.045, -0.05, -0.058, -0.06];

const G_UPPER = [3.02, 3.18, 3.33, 3.22, 3.15, 3.03, 2.85, 2.66, 2.46, 2.3, 2.22, 2.08, 1.88, 1.75, 1.6, 1.5, 1.4];
const G_MEDIAN = [1.9, 1.86, 1.81, 1.96, 1.93, 1.77, 1.7, 1.62, 1.47, 1.34, 1.21, 1.11, 1.04, 0.97, 0.9, 0.84, 0.77];
const G_LOWER = [0.28, 0.32, 0.24, 0.16, 0.08, 0.0, -0.08, -0.16, -0.26, -0.37, -0.37, -0.36, -0.37, -0.4, -0.43, -0.48, -0.47];

const H_UPPER = [-0.01, 0.02, 0.1, 0.19, 0.265, 0.335, 0.36, 0.395, 0.405, 0.41, 0.415, 0.405, 0.395, 0.385, 0.37, 0.355, 0.34];
const H_MEDIAN = [-0.105, -0.11, -0.068, -0.017, 0.03, 0.093, 0.132, 0.165, 0.187, 0.195, 0.214, 0.223, 0.223, 0.222, 0.213, 0.209, 0.205];
const H_LOWER = [-0.29, -0.31, -0.3, -0.265, -0.245, -0.22, -0.19, -0.172, -0.158, -0.148, -0.138, -0.128, -0.12, -0.115, -0.115, -0.11, -0.105];

// ---------- helpers ----------
const toPoints = (vals: number[]) => vals.map((v, i) => ({ x: HORIZON[i], y: v }));

function spaghetti(lines: number[][], colors: string[]) {
  return lines.map((vals, i) => ({
    data: toPoints(vals),
    borderColor: colors[i % colors.length],
    borderWidth: 1,
    pointRadius: 0,
    fill: false,
    tension: 0,
  }));
}

function band(lower: number[], median: number[], upper: number[]) {
  return [
    { data: toPoints(lower), borderColor: "#0000FF", borderWidth: 2.6, borderDash: [10, 6], pointRadius: 0, fill: false, tension: 0 },
    { data: toPoints(upper), borderColor: "#0000FF", borderWidth: 2.6, borderDash: [10, 6], pointRadius: 0, fill: "-1", backgroundColor: "rgba(0,0,255,0.2)", tension: 0 },
    { data: toPoints(median), borderColor: "#D3123F", borderWidth: 2.8, pointRadius: 0, fill: false, tension: 0 },
  ];
}

type Spec = {
  box: [number, number, number, number];
  plot: [number, number, number, number];
  title: string;
  yMin: number;
  yMax: number;
  major: number[];
  majorLabels: string[];
  minor: number[];
  zeroColor: string;
  zeroWidth: number;
  datasets: any[];
};

const decorPlugin = {
  id: "decor",
  afterDatasetsDraw(chart: any, _args: any, opts: any) {
    const { ctx, chartArea } = chart;
    const { left, right, top, bottom } = chartArea;
    const y0 = chart.scales.y.getPixelForValue(0);
    ctx.save();
    ctx.beginPath();
    ctx.strokeStyle = opts.zeroColor;
    ctx.lineWidth = opts.zeroWidth;
    ctx.moveTo(left, y0);
    ctx.lineTo(right, y0);
    ctx.stroke();
    ctx.strokeStyle = "#A3A3A3";
    ctx.lineWidth = 1;
    const l = Math.round(left), t = Math.round(top), r = Math.round(right), b = Math.round(bottom);
    ctx.strokeRect(l + 0.5, t + 0.5, r - l - 1, b - t - 1);
    ctx.fillStyle = "#000000";
    ctx.font = `14px ${FONT}`;
    ctx.textAlign = "left";
    ctx.textBaseline = "alphabetic";
    ctx.fillText(opts.title, left, top - 8.4);
    ctx.restore();
  },
};

function Panel({ spec }: { spec: Spec }) {
  const ref = useRef<HTMLCanvasElement>(null);
  useEffect(() => {
    const [bl, bt, bw, bh] = spec.box;
    const [pl, pt, pr, pb] = spec.plot;
    const near = (a: number, b: number) => Math.abs(a - b) < 1e-9;
    const isMajor = (v: number) => spec.major.some((m) => near(m, v));
    const labelOf = (v: number) => {
      const i = spec.major.findIndex((m) => near(m, v));
      return i >= 0 ? spec.majorLabels[i] : "";
    };
    const yTicks = [...spec.major, ...spec.minor].sort((a, b) => a - b);
    const chart = new Chart(ref.current as HTMLCanvasElement, {
      type: "line",
      data: { datasets: spec.datasets },
      options: {
        animation: false,
        responsive: false,
        maintainAspectRatio: false,
        events: [],
        layout: { padding: { left: 0, top: pt - bt, right: bl + bw - pr, bottom: 0 } },
        plugins: {
          legend: { display: false },
          tooltip: { enabled: false },
          title: { display: false },
          filler: { drawTime: "beforeDatasetsDraw" },
          decor: { title: spec.title, zeroColor: spec.zeroColor, zeroWidth: spec.zeroWidth },
        } as any,
        elements: { point: { radius: 0 }, line: { tension: 0 } },
        scales: {
          x: {
            type: "linear",
            min: -0.6,
            max: 16.6,
            afterBuildTicks: (s: any) => {
              s.ticks = HORIZON.map((v) => ({ value: v }));
            },
            afterFit: (s: any) => {
              s.height = bt + bh - pb;
            },
            ticks: {
              autoSkip: false,
              maxRotation: 0,
              minRotation: 0,
              padding: 0,
              color: "#4D4D4D",
              font: { family: FONT, size: 15 },
              callback: (v: any) => String(v),
            },
            grid: { color: "#EBEBEB", lineWidth: 1, tickLength: 4, tickColor: "#8C8C8C" },
            border: { display: false },
          },
          y: {
            type: "linear",
            min: spec.yMin,
            max: spec.yMax,
            afterBuildTicks: (s: any) => {
              s.ticks = yTicks.map((v) => ({ value: v }));
            },
            afterFit: (s: any) => {
              s.width = pl - bl;
            },
            ticks: {
              autoSkip: false,
              padding: 2,
              color: "#4D4D4D",
              font: { family: FONT, size: 15 },
              callback: (v: any) => labelOf(Number(v)),
            },
            grid: {
              color: (c: any) => (c.tick && isMajor(c.tick.value) ? "#EBEBEB" : "#F4F4F4"),
              lineWidth: 1,
              tickLength: 4,
              tickColor: (c: any) => (c.tick && isMajor(c.tick.value) ? "#8C8C8C" : "rgba(0,0,0,0)"),
            },
            border: { display: false },
          },
        },
      } as any,
      plugins: [decorPlugin as any],
    });
    return () => chart.destroy();
  }, [spec]);
  const [bl, bt, bw, bh] = spec.box;
  return (
    <canvas
      ref={ref}
      width={bw}
      height={bh}
      style={{ position: "absolute", left: bl, top: bt, width: bw, height: bh, display: "block" }}
    />
  );
}

const SPECS: Spec[] = [
  {
    box: [0, 0, 587, 370], plot: [37, 25.7, 577, 332], title: TITLES[0],
    yMin: -0.44, yMax: 1.079, major: [0, 0.5, 1], majorLabels: ["0.0", "0.5", "1.0"], minor: [-0.25, 0.25, 0.75],
    zeroColor: "#333333", zeroWidth: 1, datasets: spaghetti(A_LINES, A_COLORS),
  },
  {
    box: [587, 0, 587, 370], plot: [629.3, 25.7, 1170, 332], title: TITLES[1],
    yMin: -0.3, yMax: 1.116, major: [0, 0.4, 0.8], majorLabels: ["0.0", "0.4", "0.8"], minor: [-0.2, 0.2, 0.6, 1.0],
    zeroColor: "#000000", zeroWidth: 1.6, datasets: spaghetti(B_LINES, B_COLORS),
  },
  {
    box: [0, 370, 587, 371], plot: [23.3, 396.7, 577, 701.7], title: TITLES[2],
    yMin: -1.347, yMax: 5.571, major: [0, 2, 4], majorLabels: ["0", "2", "4"], minor: [-1, 1, 3, 5],
    zeroColor: "#333333", zeroWidth: 1, datasets: spaghetti(C_LINES, C_COLORS),
  },
  {
    box: [587, 370, 587, 371], plot: [634.7, 396.7, 1170, 701.7], title: TITLES[3],
    yMin: -0.206, yMax: 0.536, major: [-0.2, 0, 0.2, 0.4], majorLabels: ["-0.2", "0.0", "0.2", "0.4"], minor: [-0.1, 0.1, 0.3, 0.5],
    zeroColor: "#5A5A5A", zeroWidth: 2.2, datasets: spaghetti(D_LINES, D_COLORS),
  },
  {
    box: [0, 741, 587, 370], plot: [45, 767.7, 577, 1072.7], title: TITLES[4],
    yMin: -0.068, yMax: 1.048, major: [0, 0.25, 0.5, 0.75, 1], majorLabels: ["0.00", "0.25", "0.50", "0.75", "1.00"],
    minor: [0.125, 0.375, 0.625, 0.875], zeroColor: "#000000", zeroWidth: 2.8, datasets: band(E_LOWER, E_MEDIAN, E_UPPER),
  },
  {
    box: [587, 741, 587, 370], plot: [637, 767.7, 1170, 1072.7], title: TITLES[5],
    yMin: -0.1125, yMax: 1.0425, major: [0, 0.25, 0.5, 0.75, 1], majorLabels: ["0.00", "0.25", "0.50", "0.75", "1.00"],
    minor: [0.125, 0.375, 0.625, 0.875], zeroColor: "#000000", zeroWidth: 2.8, datasets: band(F_LOWER, F_MEDIAN, F_UPPER),
  },
  {
    box: [0, 1111, 587, 345], plot: [23.3, 1137.7, 577, 1429], title: TITLES[6],
    yMin: -0.67, yMax: 3.52, major: [0, 1, 2, 3], majorLabels: ["0", "1", "2", "3"], minor: [-0.5, 0.5, 1.5, 2.5, 3.5],
    zeroColor: "#000000", zeroWidth: 2.8, datasets: band(G_LOWER, G_MEDIAN, G_UPPER),
  },
  {
    box: [587, 1111, 587, 345], plot: [634.7, 1137.7, 1170, 1429], title: TITLES[7],
    yMin: -0.346, yMax: 0.452, major: [-0.2, 0, 0.2, 0.4], majorLabels: ["-0.2", "0.0", "0.2", "0.4"], minor: [-0.3, -0.1, 0.1, 0.3],
    zeroColor: "#000000", zeroWidth: 2.8, datasets: band(H_LOWER, H_MEDIAN, H_UPPER),
  },
];

export default function App() {
  return (
    <div
      style={{
        position: "absolute",
        left: 0,
        top: 0,
        width: 1174,
        height: 1479,
        background: "#FFFFFF",
        overflow: "hidden",
      }}
    >
      {SPECS.map((s, i) => (
        <Panel key={i} spec={s} />
      ))}
      <div
        style={{
          position: "absolute",
          left: 0,
          top: 1466,
          width: 1171,
          textAlign: "right",
          fontFamily: FONT,
          fontSize: 9,
          lineHeight: "11px",
          color: "#000000",
          whiteSpace: "nowrap",
        }}
      >
        {FOOTNOTE}
      </div>
    </div>
  );
}
